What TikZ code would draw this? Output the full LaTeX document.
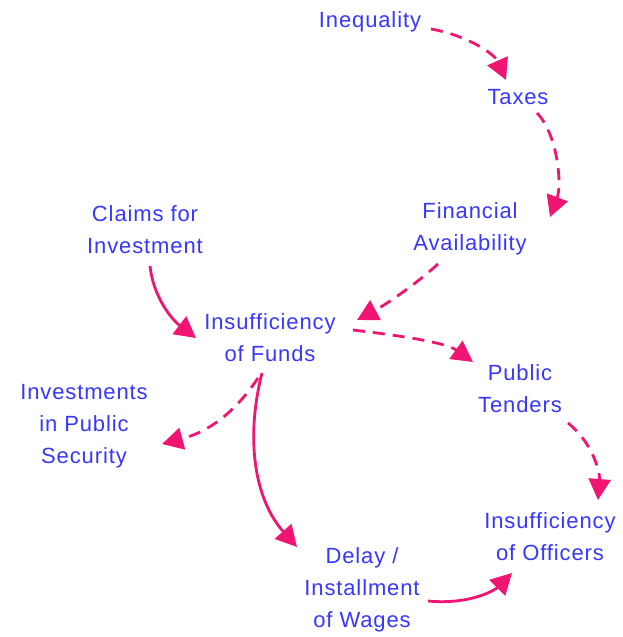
\documentclass[tikz,border=0pt]{standalone}
\usepackage{fontspec}
\setmainfont[LetterSpace=4]{Liberation Sans}
\usetikzlibrary{arrows.meta}
\definecolor{txt}{RGB}{55,55,255}
\definecolor{arr}{RGB}{240,20,115}
\begin{document}
\begin{tikzpicture}[x=1pt,y=-1pt,
  lbl/.style={text=txt,align=center,font=\fontsize{22}{32}\selectfont,inner sep=0pt},
  link/.style={draw=arr,line width=2.8pt,-{Triangle[length=21pt,width=22pt]}},
  dlink/.style={link,dash pattern=on 12pt off 8pt}]
\useasboundingbox (0,0) rectangle (622,637);
\node[lbl] (ineq) at (370,22) {Inequality};
\node[lbl] (taxes) at (518,97) {Taxes};
\node[lbl] (fin) at (470,229) {Financial\\Availability};
\node[lbl] (claims) at (145,230) {Claims for\\Investment};
\node[lbl] (funds) at (270,338) {Insufficiency\\of Funds};
\node[lbl] (tenders) at (520,389) {Public\\Tenders};
\node[lbl] (invest) at (84,426) {Investments\\in Public\\Security};
\node[lbl] (officers) at (550,537) {Insufficiency\\of Officers};
\node[lbl] (delay) at (362,590) {Delay /\\Installment\\of Wages};

\draw[dlink] ([shift={(61,7)}]ineq.center) .. controls (470,36) and (495,55) .. ([shift={(-12,-17)}]taxes.center);
\draw[dlink] ([shift={(19,16)}]taxes.center) .. controls (558,135) and (562,185) .. ([shift={(80,-12)}]fin.center);
\draw[dlink] ([shift={(-32,35)}]fin.center) .. controls (415,285) and (385,305) .. ([shift={(87,-18)}]funds.center);
\draw[link] ([shift={(5,36)}]claims.center) .. controls (153,295) and (170,318) .. ([shift={(-74,0)}]funds.center);
\draw[dlink] ([shift={(83,-8)}]funds.center) .. controls (395,335) and (445,342) .. ([shift={(-47,-27)}]tenders.center);
\draw[dlink] ([shift={(-12,40)}]funds.center) .. controls (240,405) and (215,430) .. ([shift={(78,18)}]invest.center);
\draw[link] ([shift={(-8,35)}]funds.center) .. controls (245,440) and (255,500) .. ([shift={(-65,-43)}]delay.center);
\draw[dlink] ([shift={(48,34)}]tenders.center) .. controls (595,445) and (600,475) .. ([shift={(48,-37)}]officers.center);
\draw[link] ([shift={(66,11)}]delay.center) .. controls (470,605) and (495,590) .. ([shift={(-38,36)}]officers.center);
\end{tikzpicture}
\end{document}
